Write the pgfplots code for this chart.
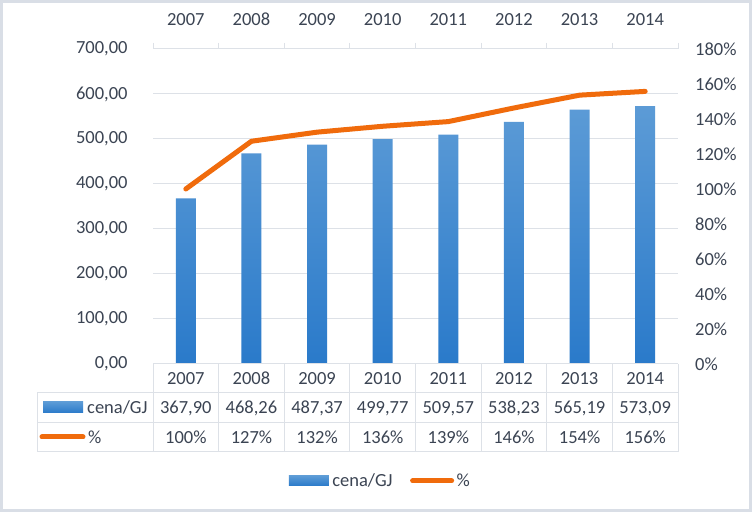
\documentclass[border=0pt]{standalone}
\usepackage{pgfplots}
\pgfplotsset{compat=1.18}
\usepackage{fontspec}
\setmainfont{Carlito}
\definecolor{txt}{HTML}{3B4453}
\definecolor{gridc}{HTML}{DDE1E7}
\definecolor{tabc}{HTML}{DDE1E7}
\definecolor{frame}{HTML}{D9DEE6}
\definecolor{barTop}{HTML}{5C9BD6}
\definecolor{barBot}{HTML}{2A7ACA}
\definecolor{orng}{HTML}{F06B0C}

\pgfplotstableread{
x cena pct
0 367.90 1.0000
1 468.26 1.2728
2 487.37 1.3248
3 499.77 1.3584
4 509.57 1.3851
5 538.23 1.4630
6 565.19 1.5362
7 573.09 1.5577
}\datatab

\begin{document}
\begin{tikzpicture}[x=1bp,y=1bp, font=\fontsize{18.5bp}{22bp}\selectfont]
\useasboundingbox (0,0) rectangle (752,512);
\fill[white] (0,0) rectangle (752,512);
\draw[frame, line width=2.6bp] (1.3,1.3) rectangle (750.7,510.7);

\begin{axis}[at={(153bp,148bp)}, anchor=south west, scale only axis,
  width=525bp, height=315bp,
  xmin=-0.5, xmax=7.5, ymin=0, ymax=700,
  axis x line*=top, axis y line*=left,
  axis line style={draw=none},
  xtick={0,...,7},
  xticklabels={2007,2008,2009,2010,2011,2012,2013,2014},
  minor xtick={-0.5,0.5,...,7.5},
  major x tick style={draw=none},
  minor x tick style={draw=tabc, line width=1bp},
  minor tick length=6bp, tick align=outside,
  xticklabel style={anchor=base, inner sep=0pt, yshift=19bp, text=txt},
  ytick={0,100,...,700},
  major y tick style={draw=none},
  ymajorgrids, major grid style={draw=gridc, line width=1bp},
  yticklabel style={anchor=east, inner sep=0pt, xshift=-21bp, text=txt,
    /pgf/number format/.cd, fixed, fixed zerofill, precision=2, use comma, assume math mode=true},
  clip=false,
]
\addplot[ybar, bar width=0.305, draw=none, top color=barTop, bottom color=barBot]
  table[x=x, y=cena] {\datatab};
\end{axis}

\begin{axis}[at={(153bp,148bp)}, anchor=south west, scale only axis,
  width=525bp, height=315bp,
  xmin=-0.5, xmax=7.5, ymin=0, ymax=1.8,
  axis x line=none, axis y line*=right,
  axis line style={draw=none},
  ytick={0,0.2,...,1.8},
  major y tick style={draw=none},
  yticklabel={\pgfmathparse{\tick*100}\pgfmathprintnumber[fixed,precision=0,assume math mode=true]{\pgfmathresult}\%},
  yticklabel style={anchor=west, inner sep=0pt, xshift=17bp, text=txt},
  clip=false,
  legend columns=2,
  legend style={at={(0.4325,-0.371)}, anchor=center, draw=none, fill=none,
    font=\fontsize{18.5bp}{22bp}\selectfont, text=txt,
    nodes={inner sep=1.5bp},
    /tikz/every even column/.append style={column sep=16bp}},
  legend cell align=left,
]
\addlegendimage{legend image code/.code={\fill[draw=none, top color=barTop, bottom color=barBot] (0bp,-5bp) rectangle (40bp,5bp); \path[draw=none] (0bp,0bp) -- (42bp,0bp);}}
\addlegendentry{cena/GJ}
\addplot[orng, line width=5bp, line join=round, line cap=round,
  legend image code/.code={\draw[orng, line width=5bp, line cap=round] (2.5bp,0bp) -- (41.5bp,0bp); \path[draw=none] (0bp,0bp) -- (45bp,0bp);}]
  table[x=x, y=pct] {\datatab};
\addlegendentry{\%}
\end{axis}

% data table
\begin{scope}[tabc, line width=1bp]
\draw (153,148) -- (678,148);
\draw (37,119) -- (678,119);
\draw (37,89) -- (678,89);
\draw (37,60) -- (678,60);
\draw (37,119) -- (37,60);
\foreach \i in {0,...,8} { \draw ({153+65.625*\i},148) -- ({153+65.625*\i},60); }
\end{scope}
\foreach \y [count=\i from 0] in {2007,2008,2009,2010,2011,2012,2013,2014}
  \node[text=txt, inner sep=0pt, anchor=base] at ({185.8+65.625*\i},127) {\y};
\foreach \v [count=\i from 0] in {{367,90},{468,26},{487,37},{499,77},{509,57},{538,23},{565,19},{573,09}}
  \node[text=txt, inner sep=0pt, anchor=base] at ({185.8+65.625*\i},98) {\v};
\foreach \v [count=\i from 0] in {100,127,132,136,139,146,154,156}
  \node[text=txt, inner sep=0pt, anchor=base] at ({185.8+65.625*\i},68) {\v\%};
\fill[top color=barTop, bottom color=barBot] (43,99) rectangle (83,110);
\node[text=txt, inner sep=0pt, anchor=base west] at (87,98) {cena/GJ};
\draw[orng, line width=5bp, line cap=round] (42,75) -- (83,75);
\node[text=txt, inner sep=0pt, anchor=base west] at (88,68) {\%};
\end{tikzpicture}
\end{document}
